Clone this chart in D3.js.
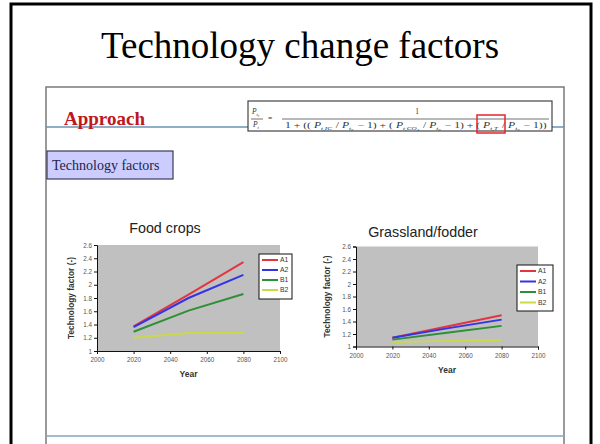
<!DOCTYPE html>
<html>
<head>
<meta charset="utf-8">
<script src="https://cdn.jsdelivr.net/npm/d3@7"></script>
<style>
  html, body { margin: 0; padding: 0; background: #fff; }
  svg { display: block; }
</style>
</head>
<body>
<script>
// Scenario series (technology factor relative to base year)
const years = [2020, 2050, 2080];
const scenarios = ["A1", "A2", "B1", "B2"];
const scenarioColors = ["#e2353f", "#3434e6", "#2f8f36", "#c9d94a"];

const foodA1 = [1.37, 1.85, 2.34];
const foodA2 = [1.36, 1.80, 2.15];
const foodB1 = [1.29, 1.61, 1.86];
const foodB2 = [1.20, 1.27, 1.27];

const grassA1 = [1.14, 1.32, 1.50];
const grassA2 = [1.14, 1.29, 1.43];
const grassB1 = [1.11, 1.22, 1.33];
const grassB2 = [1.07, 1.09, 1.10];

const yTicks = [1, 1.2, 1.4, 1.6, 1.8, 2, 2.2, 2.4, 2.6];
const yTickLabels = ["1", "1.2", "1.4", "1.6", "1.8", "2", "2.2", "2.4", "2.6"];
const xTicks = [2000, 2020, 2040, 2060, 2080, 2100];

const W = 600, H = 444;
const svg = d3.select("body").append("svg").attr("width", W).attr("height", H);
const serif = "'Liberation Serif', 'Times New Roman', serif";
const sans = "'Liberation Sans', Arial, sans-serif";

// Outer slide border
svg.append("path")
  .attr("d", "M11,446 V4 H591 V446")
  .attr("fill", "none").attr("stroke", "#000").attr("stroke-width", 3);

// Title
svg.append("text")
  .attr("x", 300).attr("y", 58)
  .attr("text-anchor", "middle")
  .attr("font-family", serif)
  .attr("font-size", 37)
  .attr("fill", "#000")
  .text("Technology change factors");

// Embedded slide frame
svg.append("path")
  .attr("d", "M46,446 V87 H564 V446")
  .attr("fill", "none").attr("stroke", "#7a7a7a").attr("stroke-width", 1.5);

// Header rule
svg.append("line").attr("x1", 46).attr("x2", 564).attr("y1", 127).attr("y2", 127)
  .attr("stroke", "#6a95b5").attr("stroke-width", 1.3);
// Footer rule
svg.append("line").attr("x1", 46).attr("x2", 564).attr("y1", 436).attr("y2", 436)
  .attr("stroke", "#7fa6c4").attr("stroke-width", 1.5);

// "Approach" heading
svg.append("text")
  .attr("x", 64).attr("y", 125)
  .attr("font-family", serif)
  .attr("font-weight", "bold").attr("font-size", 19)
  .attr("fill", "#c0161e")
  .text("Approach");

// Formula box
const fg = svg.append("g");
fg.append("rect").attr("x", 248).attr("y", 101).attr("width", 304).attr("height", 30)
  .attr("fill", "#fff").attr("stroke", "#444").attr("stroke-width", 1.2);

// Append an italic symbol with a subscript to a text element
function sym(t, base, s) {
  t.append("tspan").attr("font-style", "italic").text(base);
  t.append("tspan").attr("font-size", 4.6).attr("dy", 1.6).attr("font-style", "italic").text(s);
  t.append("tspan").attr("dy", -1.6).text("\u200a");
}
function fitText(t, x0, width) {
  const w = t.node().getComputedTextLength();
  const y0 = +t.attr("y");
  t.attr("x", 0).attr("y", 0)
    .attr("transform", `translate(${x0},${y0}) scale(${width / w},1)`);
}
const fStyle = t => t.attr("font-family", serif).attr("font-size", 7.5).attr("fill", "#333");

// left fraction
let t = fStyle(fg.append("text").attr("x", 252).attr("y", 114));
sym(t, "P", "t\u2080");
t = fStyle(fg.append("text").attr("x", 253).attr("y", 127));
sym(t, "P", "t");
fg.append("line").attr("x1", 251).attr("x2", 263).attr("y1", 119).attr("y2", 119).attr("stroke", "#333").attr("stroke-width", 0.7);
fStyle(fg.append("text").attr("x", 268).attr("y", 121)).text("=");
// big fraction
fStyle(fg.append("text").attr("x", 417).attr("y", 114).attr("text-anchor", "middle")).text("1");
fg.append("line").attr("x1", 282).attr("x2", 549).attr("y1", 119).attr("y2", 119).attr("stroke", "#333").attr("stroke-width", 0.7);
t = fStyle(fg.append("text").attr("x", 285).attr("y", 128));
t.append("tspan").text("1 + (( ");
sym(t, "P", "t,IC");
t.append("tspan").text(" / ");
sym(t, "P", "t\u2080");
t.append("tspan").text(" \u2212 1) + ( ");
sym(t, "P", "t,CO\u2082");
t.append("tspan").text(" / ");
sym(t, "P", "t\u2080");
t.append("tspan").text(" \u2212 1) + ( ");
sym(t, "P", "t,T");
t.append("tspan").text("  /  ");
sym(t, "P", "t\u2080");
t.append("tspan").text(" \u2212 1))");
fitText(t, 285, 262);
fg.append("rect").attr("x", 477).attr("y", 115).attr("width", 28).attr("height", 18)
  .attr("fill", "none").attr("stroke", "#e3262e").attr("stroke-width", 1.5);

// "Technology factors" label box
svg.append("rect").attr("x", 47).attr("y", 151).attr("width", 126).attr("height", 28)
  .attr("fill", "#ccccff").attr("stroke", "#3a3a5a").attr("stroke-width", 1.2);
svg.append("text").attr("x", 52).attr("y", 169.5)
  .attr("font-family", serif).attr("font-size", 14).attr("fill", "#23234a")
  .text("Technology factors");

// Chart drawing
function drawChart(cfg) {
  const x = d3.scaleLinear().domain([2000, 2100]).range([cfg.left, cfg.right]);
  const y = d3.scaleLinear().domain([1, 2.6]).range([cfg.bottom, cfg.top]);
  const g = svg.append("g");

  g.append("rect").attr("x", cfg.left).attr("y", cfg.top)
    .attr("width", cfg.right - cfg.left).attr("height", cfg.bottom - cfg.top)
    .attr("fill", "#c0c0c0");

  const line = d3.line().x((d, i) => x(years[i])).y(d => y(d));
  cfg.series.forEach((s, i) => {
    g.append("path").datum(s).attr("d", line)
      .attr("fill", "none").attr("stroke", scenarioColors[i]).attr("stroke-width", 2);
  });

  const yAxis = d3.axisLeft(y).tickValues(yTicks).tickSize(3).tickPadding(2)
    .tickFormat((d, i) => yTickLabels[i]);
  const ya = g.append("g").attr("transform", `translate(${cfg.left},0)`).call(yAxis);
  const xAxis = d3.axisBottom(x).tickValues(xTicks).tickSize(3).tickPadding(4).tickFormat(d3.format("d"));
  const xa = g.append("g").attr("transform", `translate(0,${cfg.bottom})`).call(xAxis);
  [ya, xa].forEach(a => {
    a.select(".domain").attr("stroke", "#111").attr("stroke-width", 1);
    a.selectAll(".tick line").attr("stroke", "#111");
    a.selectAll("text").attr("font-family", sans).attr("font-size", 6.3).attr("fill", "#555");
  });

  g.append("text").attr("x", cfg.titleX).attr("y", cfg.titleY).attr("text-anchor", "middle")
    .attr("font-family", sans).attr("font-size", 14.3).attr("fill", "#222").text(cfg.title);
  g.append("text").attr("x", (cfg.left + cfg.right) / 2).attr("y", cfg.bottom + 26).attr("text-anchor", "middle")
    .attr("font-family", sans).attr("font-weight", "bold").attr("font-size", 8.5).attr("fill", "#333").text("Year");
  g.append("text")
    .attr("transform", `translate(${cfg.left - cfg.yTitleOff},${(cfg.top + cfg.bottom) / 2}) rotate(-90)`)
    .attr("text-anchor", "middle")
    .attr("font-family", sans).attr("font-weight", "bold").attr("font-size", 8.3).attr("fill", "#333")
    .text("Technology factor (-)");

  // legend
  const lg = g.append("g").attr("transform", `translate(${cfg.legX},${cfg.legY})`);
  lg.append("rect").attr("width", cfg.legW).attr("height", cfg.legH)
    .attr("fill", "#fff").attr("stroke", "#111").attr("stroke-width", 1);
  scenarios.forEach((name, i) => {
    const yy = cfg.legPad + i * cfg.legStep;
    lg.append("line").attr("x1", 3).attr("x2", 19).attr("y1", yy).attr("y2", yy)
      .attr("stroke", scenarioColors[i]).attr("stroke-width", 2);
    lg.append("text").attr("x", 21).attr("y", yy + 2.3)
      .attr("font-family", sans).attr("font-size", 6.8).attr("fill", "#333").text(name);
  });
}

drawChart({
  title: "Food crops", titleX: 165, titleY: 233,
  left: 97, right: 280, top: 245, bottom: 351, yTitleOff: 23,
  series: [foodA1, foodA2, foodB1, foodB2],
  legX: 259, legY: 254, legW: 33, legH: 45, legPad: 6, legStep: 10
});

drawChart({
  title: "Grassland/fodder", titleX: 423, titleY: 237,
  left: 356, right: 538, top: 246.5, bottom: 346.5, yTitleOff: 26,
  series: [grassA1, grassA2, grassB1, grassB2],
  legX: 517, legY: 265, legW: 36, legH: 46, legPad: 6, legStep: 10.5
});
</script>
</body>
</html>
